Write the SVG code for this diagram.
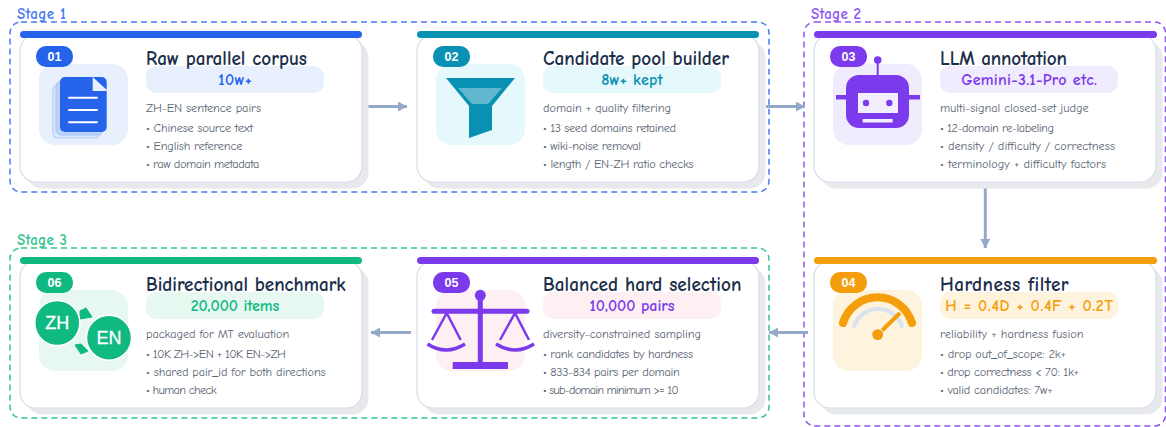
<svg xmlns="http://www.w3.org/2000/svg" width="1166" height="427" viewBox="0 0 1166 427">
<style>
text{font-family:"Comic Sans MS","Comic Neue","Chalkboard",cursive}
.frame{fill:none;stroke-width:1.5;stroke-dasharray:6 4}
.stage{font-size:15px;font-weight:700}
.shadow{fill:#e8e9ed}
.card{fill:#fff;stroke:#d6dde9;stroke-width:1.2}
.title{font-size:19.2px;font-weight:700;fill:#1b2f4b}
.pilltext{font-size:16px;font-weight:700;text-anchor:middle}
.sub{font-size:12.3px;fill:#5b6675}
.item{font-size:12.3px;fill:#5b6675}
.badge{font-family:"Liberation Sans",sans-serif;font-size:12.5px;font-weight:700;fill:#fff;text-anchor:middle}
.conn{fill:none;stroke:#94a8c8;stroke-width:3}
.big{font-family:"Liberation Sans",sans-serif;font-size:18px;font-weight:400;fill:#fff;text-anchor:middle;stroke:#fff;stroke-width:.3}
</style>
<defs>
<marker id="arr" markerUnits="userSpaceOnUse" markerWidth="10" markerHeight="10" refX="9" refY="5" orient="auto"><path d="M0 0L9 5L0 10Z" fill="#94a8c8"/></marker>
<g id="cardbase">
<rect class="shadow" x="6.500" y="6.500" width="342" height="147" rx="16"/>
<rect class="card" width="342" height="147" rx="16"/>
</g>
</defs>
<g id="frames">
<rect class="frame" x="10" y="22" width="759" height="170" rx="11" stroke="#4a7bef"/>
<text class="stage" x="17" y="18.500" fill="#4a7bef" textLength="49">Stage 1</text>
<rect class="frame" x="804" y="22" width="361.500" height="404" rx="11" stroke="#8f56f2"/>
<text class="stage" x="811" y="18.500" fill="#8f56f2" textLength="50">Stage 2</text>
<rect class="frame" x="10" y="248" width="759" height="170" rx="11" stroke="#34c48f"/>
<text class="stage" x="17" y="244.500" fill="#34c48f" textLength="50">Stage 3</text>
</g>
<g id="connectors">
<path class="conn" d="M368 106.500H407" marker-end="url(#arr)"/>
<path class="conn" d="M766 106.500H805" marker-end="url(#arr)"/>
<path class="conn" d="M985.300 188V248" marker-end="url(#arr)"/>
<path class="conn" d="M808 332.500H769" marker-end="url(#arr)"/>
<path class="conn" d="M411 332.500H371" marker-end="url(#arr)"/>
</g>
<g id="node1" transform="translate(20,35)">
<use href="#cardbase"/>
<rect x="0" y="-4" width="342" height="7" rx="3.500" fill="#2563eb"/>
<rect x="19" y="29" width="89" height="81" rx="16" fill="#e8f0fe"/>
<rect x="33" y="50" width="47" height="53" rx="5" fill="#dbe7fd" stroke="#b5cdfa" stroke-width="1.200"/>
<rect x="36" y="46" width="47" height="54" rx="5" fill="#bcd2fa" stroke="#a9c4f9"/>
<rect x="40" y="42" width="46.700" height="55" rx="5" fill="#2563eb"/>
<path d="M72.700 42L88 56H72.700Z" fill="#e8f0fe"/>
<path d="M48.300 62.700H77.700M48.300 75H77.700M48.300 87.300H77.700" stroke="#fff" stroke-width="2" fill="none"/>
<rect x="16" y="11" width="37" height="21" rx="10" fill="#2563eb"/>
<text class="badge" x="34.500" y="25.500">01</text>
<rect x="126" y="31" width="178" height="27" rx="10" fill="#e8f0fe"/>
<text class="title" x="126" y="30" textLength="161">Raw parallel corpus</text>
<text class="pilltext" x="215" y="50" fill="#2563eb" textLength="33.400">10w+</text>
<text class="sub" x="126" y="77" textLength="115">ZH-EN sentence pairs</text>
<text class="item" x="126" y="97" textLength="107">• Chinese source text</text>
<text class="item" x="126" y="115" textLength="96.300">• English reference</text>
<text class="item" x="126" y="133" textLength="113.300">• raw domain metadata</text>
</g>
<g id="node2" transform="translate(417,35)">
<use href="#cardbase"/>
<rect x="0" y="-4" width="342" height="7" rx="3.500" fill="#0891b2"/>
<rect x="19" y="29" width="89" height="81" rx="16" fill="#e5f8fb"/>
<path d="M29 43H98L75 71V95L52 103V71Z" fill="#0891b2"/>
<path d="M41 53H85L71 69H55Z" fill="#60b7ce"/>
<rect x="16" y="11" width="37" height="21" rx="10" fill="#0891b2"/>
<text class="badge" x="34.500" y="25.500">02</text>
<rect x="126" y="31" width="178" height="27" rx="10" fill="#e5f8fb"/>
<text class="title" x="126" y="30" textLength="186">Candidate pool builder</text>
<text class="pilltext" x="215" y="50" fill="#0891b2" textLength="61.700">8w+ kept</text>
<text class="sub" x="126" y="77" textLength="128">domain + quality filtering</text>
<text class="item" x="126" y="97" textLength="133">• 13 seed domains retained</text>
<text class="item" x="126" y="115" textLength="98">• wiki-noise removal</text>
<text class="item" x="126" y="133" textLength="150.700">• length / EN-ZH ratio checks</text>
</g>
<g id="node3" transform="translate(814,35)">
<use href="#cardbase"/>
<rect x="0" y="-4" width="343" height="7" rx="3.500" fill="#7c3aed"/>
<rect x="19" y="29" width="89" height="81" rx="16" fill="#f0ebfd"/>
<path d="M63.700 27V41" stroke="#7c3aed" stroke-width="2"/>
<circle cx="63.700" cy="25" r="3.800" fill="#7c3aed"/>
<path d="M22 62.300H106" stroke="#7c3aed" stroke-width="4.500"/>
<rect x="32" y="40" width="63" height="53" rx="13" fill="#7c3aed"/>
<rect x="44" y="58" width="40" height="20" fill="#f3eefe"/>
<circle cx="52" cy="68" r="3.200" fill="#7c3aed"/>
<circle cx="75.300" cy="68" r="3.200" fill="#7c3aed"/>
<rect x="48.700" y="84" width="30" height="3.500" fill="#f3eefe"/>
<rect x="16" y="11" width="37" height="21" rx="10" fill="#7c3aed"/>
<text class="badge" x="34.500" y="25.500">03</text>
<rect x="126" y="31" width="178" height="27" rx="10" fill="#f0ebfd"/>
<text class="title" x="126" y="30" textLength="127">LLM annotation</text>
<text class="pilltext" x="215" y="50" fill="#7c3aed" textLength="135.700">Gemini-3.1-Pro etc.</text>
<text class="sub" x="126" y="77" textLength="148.600">multi-signal closed-set judge</text>
<text class="item" x="126" y="97" textLength="114">• 12-domain re-labeling</text>
<text class="item" x="126" y="115" textLength="175">• density / difficulty / correctness</text>
<text class="item" x="126" y="133" textLength="166">• terminology + difficulty factors</text>
</g>
<g id="node4" transform="translate(814,261)">
<use href="#cardbase"/>
<rect x="0" y="-4" width="343" height="7" rx="3.500" fill="#f59e0b"/>
<rect x="19" y="29" width="89" height="81" rx="16" fill="#fef3dc"/>
<path d="M29 62A36 36 0 0 1 98 62" fill="none" stroke="#f59e0b" stroke-width="8" stroke-linecap="round"/>
<path d="M40 65A25.400 25.400 0 0 1 88 65" fill="none" stroke="#d9e2ef" stroke-width="4" stroke-linecap="round"/>
<path d="M63.700 73.700L86 52" stroke="#f59e0b" stroke-width="4"/>
<circle cx="63.700" cy="73.700" r="6" fill="#f59e0b" stroke="#fff" stroke-width="1"/>
<rect x="16" y="11" width="37" height="21" rx="10" fill="#f59e0b"/>
<text class="badge" x="34.500" y="25.500">04</text>
<rect x="126" y="31" width="178" height="27" rx="10" fill="#fef3dc"/>
<text class="title" x="126" y="29.500" textLength="128.600">Hardness filter</text>
<text class="pilltext" x="215" y="50" fill="#f59e0b" textLength="167.600">H = 0.4D + 0.4F + 0.2T</text>
<text class="sub" x="126" y="77" textLength="143.600">reliability + hardness fusion</text>
<text class="item" x="126" y="97" textLength="126">• drop out_of_scope: 2k+</text>
<text class="item" x="126" y="115" textLength="139">• drop correctness &lt; 70: 1k+</text>
<text class="item" x="126" y="133" textLength="112.600">• valid candidates: 7w+</text>
</g>
<g id="node5" transform="translate(417,261)">
<use href="#cardbase"/>
<rect x="0" y="-4" width="342" height="7" rx="3.500" fill="#7c3aed"/>
<rect x="19" y="29" width="89" height="81" rx="16" fill="#feeff2"/>
<g stroke="#7c3aed" fill="none">
<path d="M63.300 34V102" stroke-width="5"/>
<path d="M17 50.300H110" stroke-width="5" stroke-linecap="round"/>
<path d="M29.700 52L15 79M29.700 52L43.700 79M98 52L83 79M98 52L112 79" stroke-width="2.500"/>
<path d="M10.500 83Q29 95 48 83M79 83Q98 95 117 83" stroke-width="3.500"/>
</g>
<circle cx="63.300" cy="34.300" r="5.500" fill="#7c3aed"/>
<rect x="35.700" y="101" width="55.300" height="7" fill="#7c3aed"/>
<rect x="16" y="11" width="37" height="21" rx="10" fill="#7c3aed"/>
<text class="badge" x="34.500" y="25.500">05</text>
<rect x="126" y="31" width="178" height="27" rx="10" fill="#feeff2"/>
<text class="title" x="126" y="29.500" textLength="198.400">Balanced hard selection</text>
<text class="pilltext" x="215" y="50" fill="#7c3aed" textLength="85">10,000 pairs</text>
<text class="sub" x="126" y="77" textLength="158">diversity-constrained sampling</text>
<text class="item" x="126" y="97" textLength="150">• rank candidates by hardness</text>
<text class="item" x="126" y="115" textLength="136.700">• 833-834 pairs per domain</text>
<text class="item" x="126" y="133" textLength="135.700">• sub-domain minimum &gt;= 10</text>
</g>
<g id="node6" transform="translate(20,261)">
<use href="#cardbase"/>
<rect x="0" y="-4" width="342" height="7" rx="3.500" fill="#10b981"/>
<rect x="19" y="29" width="89" height="81" rx="16" fill="#e7f8f1"/>
<path d="M60 50L66 47L72 56L60 58Z" fill="#10b981" stroke="#10b981" stroke-width="1"/>
<path d="M55 84L61 83L68 90L61 93Z" fill="#10b981" stroke="#10b981" stroke-width="1"/>
<circle cx="37.300" cy="62" r="22.500" fill="#10b981" stroke="#fff" stroke-width="1.500"/>
<circle cx="89" cy="76.700" r="22.500" fill="#10b981" stroke="#fff" stroke-width="1.500"/>
<text class="big" x="37.300" y="68">ZH</text>
<text class="big" x="89" y="83">EN</text>
<rect x="16" y="11" width="37" height="21" rx="10" fill="#10b981"/>
<text class="badge" x="34.500" y="25.500">06</text>
<rect x="126" y="31" width="178" height="27" rx="10" fill="#e7f8f1"/>
<text class="title" x="126" y="29.500" textLength="199.700">Bidirectional benchmark</text>
<text class="pilltext" x="215" y="50" fill="#10b981" textLength="88.700">20,000 items</text>
<text class="sub" x="126" y="77" textLength="143.300">packaged for MT evaluation</text>
<text class="item" x="126" y="97" textLength="140">• 10K ZH-&gt;EN + 10K EN-&gt;ZH</text>
<text class="item" x="126" y="115" textLength="179.700">• shared pair_id for both directions</text>
<text class="item" x="126" y="133" textLength="70.700">• human check</text>
</g>
</svg>
